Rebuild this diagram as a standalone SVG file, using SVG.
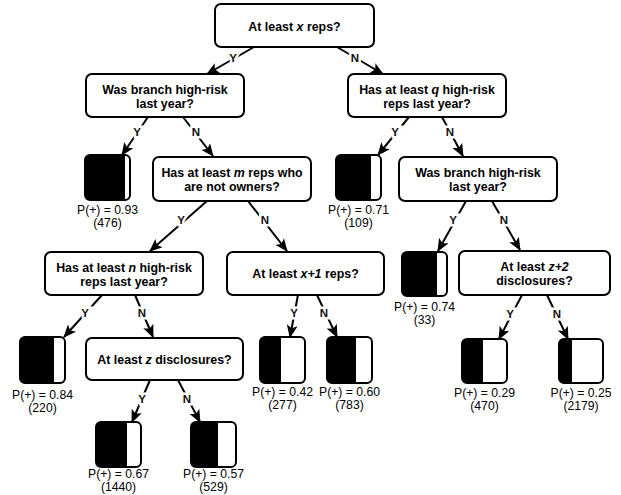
<svg xmlns="http://www.w3.org/2000/svg" width="621" height="495" viewBox="0 0 621 495">
<style>
.node{fill:#fff;stroke:#000;stroke-width:2}
.nt{font-family:"Liberation Sans",Arial,sans-serif;font-weight:bold;font-size:12.4px;text-anchor:middle;fill:#000}
.lt{font-family:"Liberation Sans",Arial,sans-serif;font-size:12.2px;text-anchor:middle;fill:#000}
.yn{font-family:"Liberation Sans",Arial,sans-serif;font-weight:bold;font-size:11.5px;text-anchor:middle;fill:#111;stroke:#fff;stroke-width:5;paint-order:stroke}
.edge{stroke:#000;stroke-width:2;fill:none;marker-end:url(#ah)}
.lf{fill:#fff;stroke:#000;stroke-width:2}
.blk{fill:#000}
</style>
<defs>
<marker id="ah" viewBox="0 0 13 11" refX="12" refY="5.5" markerWidth="13" markerHeight="11" markerUnits="userSpaceOnUse" orient="auto">
<path d="M0,0 L13,5.5 L0,11 L3,5.5 Z" fill="#000"/>
</marker>
</defs>
<g id="connectors">
<line class="edge" x1="254" y1="47" x2="207" y2="74"/>
<line class="edge" x1="337" y1="47" x2="383" y2="74"/>
<line class="edge" x1="148" y1="117" x2="122" y2="155"/>
<line class="edge" x1="183" y1="117" x2="213" y2="156"/>
<line class="edge" x1="409" y1="117" x2="378" y2="155"/>
<line class="edge" x1="442" y1="117" x2="463" y2="156"/>
<line class="edge" x1="207" y1="201" x2="150" y2="251"/>
<line class="edge" x1="248" y1="201" x2="287" y2="251"/>
<line class="edge" x1="466" y1="201" x2="438" y2="251"/>
<line class="edge" x1="492" y1="201" x2="520" y2="250"/>
<line class="edge" x1="102" y1="295" x2="64" y2="337"/>
<line class="edge" x1="135" y1="295" x2="153" y2="337"/>
<line class="edge" x1="298" y1="295" x2="290" y2="337"/>
<line class="edge" x1="317" y1="295" x2="337" y2="337"/>
<line class="edge" x1="522" y1="295" x2="499" y2="339"/>
<line class="edge" x1="547" y1="295" x2="568" y2="339"/>
<line class="edge" x1="150" y1="380" x2="132" y2="422"/>
<line class="edge" x1="178" y1="380" x2="200" y2="422"/>
<text class="yn" x="233" y="62">Y</text>
<text class="yn" x="355" y="62">N</text>
<text class="yn" x="137" y="136">Y</text>
<text class="yn" x="196" y="136">N</text>
<text class="yn" x="395" y="136">Y</text>
<text class="yn" x="450" y="136">N</text>
<text class="yn" x="181" y="224">Y</text>
<text class="yn" x="265" y="224">N</text>
<text class="yn" x="453" y="224">Y</text>
<text class="yn" x="504" y="224">N</text>
<text class="yn" x="85" y="317">Y</text>
<text class="yn" x="142" y="317">N</text>
<text class="yn" x="294" y="317">Y</text>
<text class="yn" x="324" y="317">N</text>
<text class="yn" x="510" y="318">Y</text>
<text class="yn" x="557" y="318">N</text>
<text class="yn" x="142" y="403">Y</text>
<text class="yn" x="187" y="403">N</text>
</g>
<g id="root">
<rect class="node" x="215" y="4" width="159" height="43" rx="6"/>
<text class="nt" x="294.5" y="31">At least <tspan font-style="italic">x</tspan> reps?</text>
</g>
<g id="branch-risk-1">
<rect class="node" x="86" y="74" width="158" height="43" rx="6"/>
<text class="nt" x="165" y="93.5">Was branch high-risk</text>
<text class="nt" x="165" y="107.5">last year?</text>
</g>
<g id="q-highrisk">
<rect class="node" x="348" y="74" width="158" height="43" rx="6"/>
<text class="nt" x="427" y="93.5">Has at least <tspan font-style="italic">q</tspan> high-risk</text>
<text class="nt" x="427" y="107.5">reps last year?</text>
</g>
<g id="m-nonowners">
<rect class="node" x="153" y="157" width="158" height="44" rx="6"/>
<text class="nt" x="232" y="176.5">Has at least <tspan font-style="italic">m</tspan> reps who</text>
<text class="nt" x="232" y="190.5">are not owners?</text>
</g>
<g id="branch-risk-2">
<rect class="node" x="399" y="157" width="158" height="44" rx="6"/>
<text class="nt" x="478" y="176.5">Was branch high-risk</text>
<text class="nt" x="478" y="190.5">last year?</text>
</g>
<g id="n-highrisk">
<rect class="node" x="45" y="252" width="158" height="43" rx="6"/>
<text class="nt" x="124" y="271.5">Has at least <tspan font-style="italic">n</tspan> high-risk</text>
<text class="nt" x="124" y="285.5">reps last year?</text>
</g>
<g id="x1-reps">
<rect class="node" x="227" y="252" width="157" height="43" rx="6"/>
<text class="nt" x="305.5" y="277.5">At least <tspan font-style="italic">x+1</tspan> reps?</text>
</g>
<g id="z2-disclosures">
<rect class="node" x="459" y="251" width="151" height="44" rx="6"/>
<text class="nt" x="534.5" y="270.5">At least <tspan font-style="italic">z+2</tspan></text>
<text class="nt" x="534.5" y="284.5">disclosures?</text>
</g>
<g id="z-disclosures">
<rect class="node" x="86" y="338" width="157" height="42" rx="6"/>
<text class="nt" x="164.5" y="364">At least <tspan font-style="italic">z</tspan> disclosures?</text>
</g>
<g id="leaf-093">
<rect class="lf" x="85" y="155" width="45" height="45" rx="5"/>
<path class="blk" d="M90,155 H125 V200 H90 A5,5 0 0 1 85,195 V160 A5,5 0 0 1 90,155 Z"/>
<text class="lt" x="107.5" y="214">P(+) = 0.93</text>
<text class="lt" x="107.5" y="227">(476)</text>
</g>
<g id="leaf-071">
<rect class="lf" x="336" y="155" width="45" height="45" rx="5"/>
<path class="blk" d="M341,155 H371 V200 H341 A5,5 0 0 1 336,195 V160 A5,5 0 0 1 341,155 Z"/>
<text class="lt" x="358.5" y="214">P(+) = 0.71</text>
<text class="lt" x="358.5" y="227">(109)</text>
</g>
<g id="leaf-074">
<rect class="lf" x="402" y="252" width="45" height="44" rx="5"/>
<path class="blk" d="M407,252 H437 V296 H407 A5,5 0 0 1 402,291 V257 A5,5 0 0 1 407,252 Z"/>
<text class="lt" x="424.5" y="311">P(+) = 0.74</text>
<text class="lt" x="424.5" y="324">(33)</text>
</g>
<g id="leaf-084">
<rect class="lf" x="20" y="337" width="45" height="46" rx="5"/>
<path class="blk" d="M25,337 H54 V383 H25 A5,5 0 0 1 20,378 V342 A5,5 0 0 1 25,337 Z"/>
<text class="lt" x="42.5" y="399">P(+) = 0.84</text>
<text class="lt" x="42.5" y="412">(220)</text>
</g>
<g id="leaf-042">
<rect class="lf" x="260" y="337" width="45" height="46" rx="5"/>
<path class="blk" d="M265,337 H281 V383 H265 A5,5 0 0 1 260,378 V342 A5,5 0 0 1 265,337 Z"/>
<text class="lt" x="282.5" y="396">P(+) = 0.42</text>
<text class="lt" x="282.5" y="409">(277)</text>
</g>
<g id="leaf-060">
<rect class="lf" x="327" y="337" width="45" height="46" rx="5"/>
<path class="blk" d="M332,337 H356 V383 H332 A5,5 0 0 1 327,378 V342 A5,5 0 0 1 332,337 Z"/>
<text class="lt" x="349.5" y="396">P(+) = 0.60</text>
<text class="lt" x="349.5" y="409">(783)</text>
</g>
<g id="leaf-029">
<rect class="lf" x="462" y="339" width="45" height="44" rx="5"/>
<path class="blk" d="M467,339 H483 V383 H467 A5,5 0 0 1 462,378 V344 A5,5 0 0 1 467,339 Z"/>
<text class="lt" x="484.5" y="397">P(+) = 0.29</text>
<text class="lt" x="484.5" y="410">(470)</text>
</g>
<g id="leaf-025">
<rect class="lf" x="559" y="339" width="44" height="44" rx="5"/>
<path class="blk" d="M564,339 H572 V383 H564 A5,5 0 0 1 559,378 V344 A5,5 0 0 1 564,339 Z"/>
<text class="lt" x="581" y="397">P(+) = 0.25</text>
<text class="lt" x="581" y="410">(2179)</text>
</g>
<g id="leaf-067">
<rect class="lf" x="96" y="422" width="45" height="45" rx="5"/>
<path class="blk" d="M101,422 H127 V467 H101 A5,5 0 0 1 96,462 V427 A5,5 0 0 1 101,422 Z"/>
<text class="lt" x="118.5" y="478">P(+) = 0.67</text>
<text class="lt" x="118.5" y="491">(1440)</text>
</g>
<g id="leaf-057">
<rect class="lf" x="191" y="422" width="45" height="45" rx="5"/>
<path class="blk" d="M196,422 H218 V467 H196 A5,5 0 0 1 191,462 V427 A5,5 0 0 1 196,422 Z"/>
<text class="lt" x="213.5" y="478">P(+) = 0.57</text>
<text class="lt" x="213.5" y="491">(529)</text>
</g>
</svg>
